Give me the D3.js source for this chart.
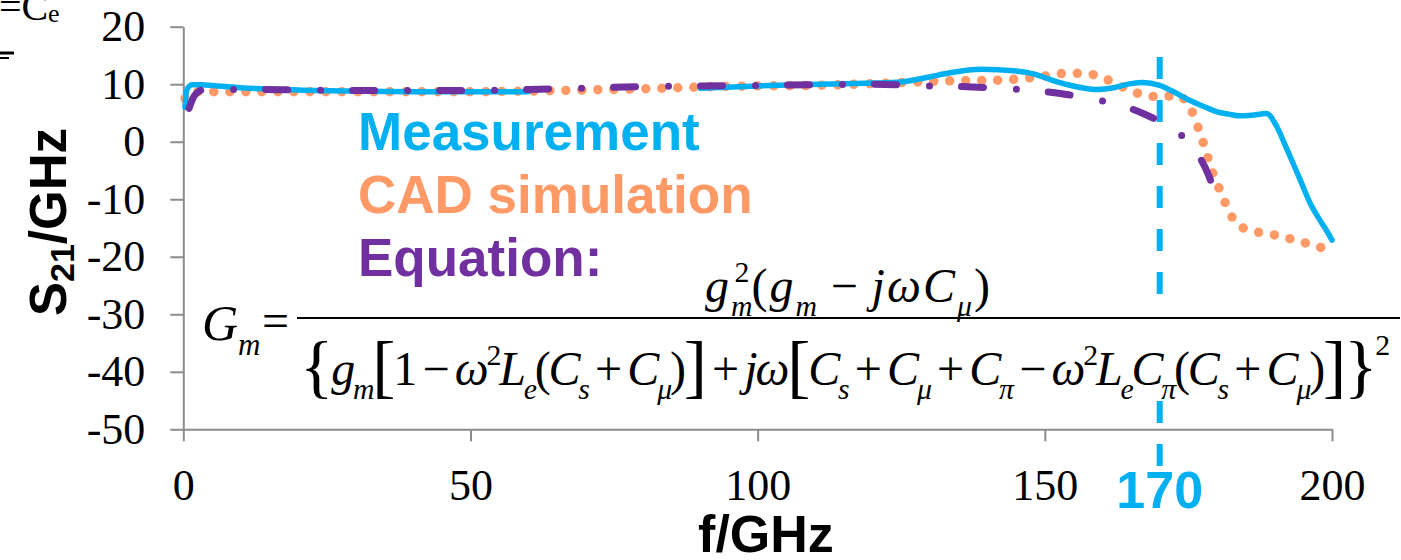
<!DOCTYPE html>
<html>
<head>
<meta charset="utf-8">
<script src="https://cdn.jsdelivr.net/npm/d3@7"></script>
<style>
  html, body { margin: 0; padding: 0; background: #fff; overflow: hidden; }
  svg { display: block; }
</style>
</head>
<body>
<svg id="chart" width="1401" height="560"></svg>
<script>
// ---- data ----
const yTicks = [20, 10, 0, -10, -20, -30, -40, -50];
const xTicks = [0, 50, 100, 150, 200];
const markerFreq = 170;

// Measured S21 (two frequency bands, gap between them)
const measLowF = [0.3, 0.6, 1.5, 3, 6, 10, 20, 30, 40, 50, 60];
const measLowV = [6.0, 9.0, 9.9, 9.9, 9.7, 9.4, 9.0, 8.8, 8.7, 8.7, 8.7];
const measHighF = [90, 100, 107, 115, 120, 125, 130, 133.5, 139, 142, 145, 148, 151, 154, 157, 159, 162, 165, 167, 170, 172, 175, 178, 180, 182, 184, 186, 188.6, 190.4, 191.8, 193.2, 194.7, 196.2, 198, 199.2, 200];
const measHighV = [9.3, 9.7, 9.9, 10.1, 10.2, 10.4, 11.3, 12.0, 12.6, 12.5, 12.3, 11.8, 10.8, 9.9, 9.3, 9.1, 9.4, 10.1, 10.3, 9.8, 8.9, 7.3, 6.0, 5.2, 4.8, 4.5, 4.6, 4.9, 2.6, -0.5, -3.7, -7.2, -10.7, -13.8, -15.7, -17.1];

// CAD simulation
const cadF = [0.3, 1, 3, 6, 10, 20, 30, 40, 50, 60, 70, 80, 90, 100, 110, 120, 128, 134, 142, 149, 154, 157, 159.5, 162, 164.7, 167.3, 170.3, 173, 175, 176.2, 177.1, 178, 178.8, 179.8, 180.9, 182, 183.5, 186.1, 188.9, 191.7, 194.3, 197.1, 200];
const cadV = [7.5, 8.5, 8.7, 8.7, 8.7, 8.7, 8.7, 8.7, 8.7, 8.8, 9.0, 9.2, 9.5, 9.7, 9.8, 10.1, 10.4, 10.6, 10.7, 11.3, 11.9, 11.9, 11.3, 10.3, 9.0, 8.1, 7.8, 8.1, 6.4, 3.9, 1.2, -1.4, -4.2, -6.8, -9.4, -12.0, -14.3, -15.5, -16.0, -16.6, -17.3, -18.1, -19.0];

// Closed-form equation
const eqF = [1.0, 2.0, 3.4, 6, 10, 20, 30, 40, 50, 60, 70, 80, 90, 100, 110, 120, 125, 130, 135, 140, 142, 147.6, 152.7, 157.6, 162.6, 167.8, 171.8, 175.8, 178.5, 180];
const eqV = [5.8, 8.1, 9.0, 9.1, 9.1, 9.0, 8.9, 8.9, 8.9, 9.1, 9.3, 9.6, 9.7, 9.8, 9.9, 10.0, 9.9, 9.7, 9.6, 9.4, 9.3, 8.9, 8.4, 7.5, 6.5, 4.6, 2.5, -1.0, -5.8, -10.0];

const legendLabels = ["Measurement", "CAD simulation", "Equation:"];
const colors = { meas: "#00B0F0", cad: "#FF9966", eq: "#7030A0" };

// ---- setup ----
const svg = d3.select("#chart");
const x = d3.scaleLinear().domain([0, 200]).range([183.3, 1332]);
const y = d3.scaleLinear().domain([-50, 20]).range([429.3, 26.7]);
const zip = (fs, vs) => fs.map((f, i) => [f, vs[i]]);
const line = d3.line().x(d => x(d[0])).y(d => y(d[1])).curve(d3.curveMonotoneX);
const serif = "Liberation Serif, Times New Roman, serif";
const sans = "Liberation Sans, Arial, sans-serif";

// fragment of the neighbouring circuit figure (top-left)
const frag = svg.append("g").attr("font-family", serif).attr("fill", "#000");
frag.append("text").attr("x", -1).attr("y", 20).attr("font-size", 40).text("=C");
frag.append("text").attr("x", 48).attr("y", 22).attr("font-size", 26).text("e");
frag.append("line").attr("x1", 0).attr("x2", 14).attr("y1", 53).attr("y2", 53).attr("stroke", "#000").attr("stroke-width", 3);
frag.append("line").attr("x1", 0).attr("x2", 9).attr("y1", 58).attr("y2", 58).attr("stroke", "#000").attr("stroke-width", 2);

// ---- axes ----
const axisColor = "#8c8c8c";
const yAxis = svg.append("g").attr("transform", `translate(${x(0)},0)`)
  .call(d3.axisLeft(y).tickValues(yTicks).tickSize(13).tickSizeOuter(0).tickPadding(25).tickFormat(d => String(d)));
const xAxis = svg.append("g").attr("transform", `translate(0,${y(-50)})`)
  .call(d3.axisBottom(x).tickValues(xTicks).tickSize(12).tickSizeOuter(0).tickPadding(27).tickFormat(d => String(d)));
[yAxis, xAxis].forEach(g => {
  g.select(".domain").attr("stroke", axisColor).attr("stroke-width", 2);
  g.selectAll(".tick line").attr("stroke", axisColor).attr("stroke-width", 2);
  g.selectAll(".tick text").attr("fill", "#000").attr("font-size", 44).attr("font-family", serif);
});

// axis titles
svg.append("text").attr("x", 766).attr("y", 552).attr("text-anchor", "middle")
  .attr("font-family", sans).attr("font-weight", "bold").attr("font-size", 52)
  .text("f/GHz");
const yt = svg.append("text").attr("transform", "translate(66,222) rotate(-90)").attr("text-anchor", "middle")
  .attr("font-family", sans).attr("font-weight", "bold").attr("font-size", 51);
yt.append("tspan").text("S");
yt.append("tspan").attr("font-size", 34).attr("dy", 8).text("21");
yt.append("tspan").attr("dy", -8).text("/GHz");

// ---- marker at 170 GHz ----
svg.append("line").attr("x1", x(markerFreq)).attr("x2", x(markerFreq))
  .attr("y1", 57).attr("y2", 466)
  .attr("stroke", colors.meas).attr("stroke-width", 6).attr("stroke-dasharray", "22,21");
svg.append("text").attr("x", x(markerFreq)).attr("y", 508).attr("text-anchor", "middle")
  .attr("font-family", sans).attr("font-weight", "bold").attr("font-size", 52)
  .attr("fill", colors.meas).text(String(markerFreq));

// ---- series ----
svg.append("path").datum(zip(cadF, cadV)).attr("d", line)
  .attr("fill", "none").attr("stroke", colors.cad).attr("stroke-width", 9.5)
  .attr("stroke-linecap", "round").attr("stroke-dasharray", "0,16");
[zip(measLowF, measLowV), zip(measHighF, measHighV)].forEach(seg => {
  svg.append("path").datum(seg).attr("d", line)
    .attr("fill", "none").attr("stroke", colors.meas).attr("stroke-width", 5.5)
    .attr("stroke-linecap", "round").attr("stroke-linejoin", "round");
});
svg.append("path").datum(zip(eqF, eqV)).attr("d", line)
  .attr("fill", "none").attr("stroke", colors.eq).attr("stroke-width", 7)
  .attr("stroke-linecap", "round").attr("stroke-dasharray", "22,33,0,32");

// ---- legend text ----
const legendColors = [colors.meas, colors.cad, colors.eq];
const legendBase = [150, 213, 276];
legendLabels.forEach((t, i) => {
  svg.append("text").attr("x", 358).attr("y", legendBase[i])
    .attr("font-family", sans).attr("font-weight", "bold").attr("font-size", 53)
    .attr("fill", legendColors[i]).text(t);
});

// ---- equation ----
svg.append("rect").attr("x", 192).attr("y", 300).attr("width", 1209).attr("height", 98).attr("fill", "#fff");

function mathText(xPos, yPos, size, pieces, width) {
  const t = svg.append("text").attr("x", xPos).attr("y", yPos)
    .attr("font-family", serif).attr("font-size", size).attr("fill", "#000");
  let shift = 0;
  pieces.forEach(p => {
    const [txt, st, extra] = p;
    let target = 0, fs = size, italic = false;
    if (st === "i") italic = true;
    if (st === "sub") { target = size * 0.3; fs = size * 0.62; italic = true; }
    if (st === "sup") { target = -size * 0.42; fs = size * 0.62; }
    if (st === "sup2") { target = -size * 0.62; fs = size * 0.62; }
    if (st === "big") { target = size * 0.1; fs = size * 1.45; }
    const ts = t.append("tspan").attr("font-size", fs).attr("dy", target - shift)
      .attr("font-style", italic ? "italic" : "normal").text(txt);
    if (extra) ts.attr("dx", extra);
    shift = target;
  });
  if (width) t.attr("textLength", width).attr("lengthAdjust", "spacing");
  return t;
}

mathText(202, 340, 50, [["G", "i"], ["m", "sub"]]);
svg.append("text").attr("x", 262).attr("y", 337).attr("font-family", serif).attr("font-size", 48).text("=");
mathText(705, 302, 48, [
  ["g", "i"], ["m", "sub"], ["2", "sup", -20], ["(", "n"], ["g", "i"], ["m", "sub"],
  ["\u2009\u2212\u2009", "n"], ["j", "i"], ["\u03c9", "i"], ["C", "i"], ["\u03bc", "sub"], [")", "n"]
], 285);
mathText(300, 385, 48, [
  ["{", "big"], ["g", "i"], ["m", "sub"], ["[", "big"], ["1", "n"], ["\u2009\u2212\u2009", "n"], ["\u03c9", "i"], ["2", "sup"],
  ["L", "i"], ["e", "sub"], ["(", "n"], ["C", "i"], ["s", "sub"], ["\u2009+\u2009", "n"], ["C", "i"], ["\u03bc", "sub"], [")", "n"],
  ["]", "big"], ["\u2009+\u2009", "n"], ["j", "i"], ["\u03c9", "i"], ["[", "big"],
  ["C", "i"], ["s", "sub"], ["\u2009+\u2009", "n"], ["C", "i"], ["\u03bc", "sub"], ["\u2009+\u2009", "n"], ["C", "i"], ["\u03c0", "sub"],
  ["\u2009\u2212\u2009", "n"], ["\u03c9", "i"], ["2", "sup"], ["L", "i"], ["e", "sub"], ["C", "i"], ["\u03c0", "sub"],
  ["(", "n"], ["C", "i"], ["s", "sub"], ["\u2009+\u2009", "n"], ["C", "i"], ["\u03bc", "sub"], [")", "n"],
  ["]", "big"], ["}", "big"], ["2", "sup2"]
], 1090);
svg.append("line").attr("x1", 297).attr("x2", 1400).attr("y1", 318).attr("y2", 318)
  .attr("stroke", "#000").attr("stroke-width", 2.2);
</script>
</body>
</html>
